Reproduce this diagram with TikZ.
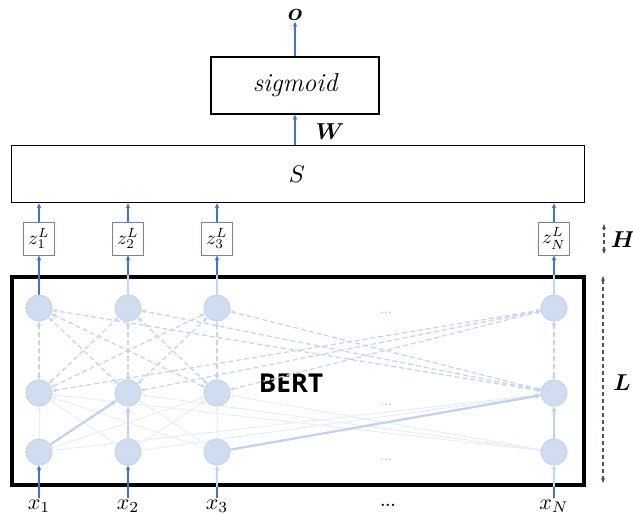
\RequirePackage{fix-cm}
\documentclass[tikz,border=0pt]{standalone}
\usepackage{fontspec}
\usepackage{graphicx}
\usetikzlibrary{arrows.meta}
\newfontfamily\bertfont{Open Sans}
\newcommand{\mylab}[2]{\scalebox{#1}{$#2$}}
\newcommand{\myblab}[2]{\scalebox{#1}{\boldmath$#2$}}
\definecolor{blueA}{HTML}{4472C4}
\definecolor{circfill}{HTML}{D0DCEF}
\definecolor{circdraw}{HTML}{C6D4EB}
\definecolor{dashc}{HTML}{C5D5EE}
\definecolor{faintc}{HTML}{E6EDF8}
\definecolor{thickc}{HTML}{C0D1EC}
\definecolor{dimc}{HTML}{44546A}
\definecolor{zbord}{HTML}{6F83AE}
\tikzset{
  neuron/.style={circle, fill=circfill, draw=circdraw, line width=0.8pt, minimum size=26pt, inner sep=0pt},
  bluearrow/.style={draw=blueA, line width=1.3pt, -{Stealth[length=5pt,width=4.5pt]}},
  palearrow/.style={draw=dashc, line width=1.3pt, -{Stealth[length=5pt,width=4.5pt]}},
  faintarrow/.style={draw=faintc, line width=1pt, -{Stealth[length=5pt,width=4.5pt]}},
  thickarrow/.style={draw=thickc, line width=2.2pt, -{Stealth[length=6pt,width=5.5pt]}},
  dasharrow/.style={draw=dashc, line width=1.3pt, dash pattern=on 5pt off 3pt, {Stealth[length=4pt,width=4pt]}-{Stealth[length=5pt,width=4.5pt]}},
  blackbox/.style={draw=black, line width=1.6pt, inner sep=0pt},
  zbox/.style={draw=zbord, line width=1pt, minimum width=31pt, minimum height=33pt, inner sep=0pt},
  dimarrow/.style={draw=dimc, line width=1.2pt, dash pattern=on 4pt off 3pt, {Stealth[length=5pt,width=4pt]}-{Stealth[length=5pt,width=4pt]}},
  lbl/.style={inner sep=1pt, font=\fontsize{10}{12}\selectfont},
  dotsg/.style={text=gray!70, font=\fontsize{14}{16}\selectfont}
}
\begin{document}
\begin{tikzpicture}[x=1pt, y=-1pt]
\useasboundingbox (0,0) rectangle (633,517);
% top part
\node[lbl] (o) at (295,15) {\myblab{2.5}{o}};
\node[blackbox, minimum width=168pt, minimum height=57pt, font=\fontsize{26}{29}\selectfont\itshape] (sig) at (295,85.5) {sigmoid};
\node[blackbox, minimum width=573pt, minimum height=57pt] (S) at (298,174) {};
\node[lbl] (Slab) at (297,174) {\mylab{2.4}{S}};
\node[lbl] (W) at (330,132) {\myblab{2.3}{W}};
\draw[bluearrow] (sig.north) -- (o.south);
\draw[bluearrow] (S.north -| sig.south) -- (sig.south);
% BERT frame
\node[draw=black, line width=4pt, minimum width=572pt, minimum height=208pt, inner sep=0pt] (frame) at (297.5,380.5) {};
\node[font=\bertfont\bfseries\fontsize{26}{30}\selectfont] (bert) at (291,383) {BERT};
% dimension arrows
\coordinate (Htop) at (604,224);
\coordinate (Hbot) at (604,254);
\draw[dimarrow] (Hbot) -- (Htop);
\node[lbl] (H) at (623,240) {\myblab{2.3}{H}};
\coordinate (Ltop) at (603,276);
\coordinate (Lbot) at (603,483);
\draw[dimarrow] (Lbot) -- (Ltop);
\node[lbl] (L) at (622,383) {\myblab{2.3}{L}};
% neurons, z boxes, inputs
\foreach \c/\x/\s in {1/39/1,2/128/2,3/217/3,4/554/N}{
  \node[neuron] (a\c) at (\x,308) {};
  \node[neuron] (b\c) at (\x,393) {};
  \node[neuron] (c\c) at (\x,452) {};
  \node[zbox, font=\fontsize{10}{12}\selectfont] (z\c) at (\x,238.5) {\mylab{1.9}{z_{\s}^{L}}};
  \node[lbl] (x\c) at (\x,506) {\mylab{2.2}{x_{\s}}};
  \draw[bluearrow] (z\c.north) -- (S.south -| z\c.north);
}
\node[dotsg] (d1) at (386,313) {...};
\node[dotsg] (d2) at (386,405) {...};
\node[dotsg] (d3) at (386,460) {...};
\node[lbl, font=\fontsize{16}{18}\selectfont\bfseries] (d4) at (388,505) {...};
% top outputs
\draw[bluearrow] (a1.north) -- (z1.south);
\foreach \c in {2,3,4}{
  \draw[palearrow] (a\c.north) -- (z\c.south);
  \draw[bluearrow] (frame.north -| z\c.south) -- (z\c.south);
}
% inputs
\draw[bluearrow] (x1.north) -- (c1.south);
\draw[bluearrow] (x2.north) -- (c2.south);
\foreach \c in {3,4}{
  \draw[palearrow] (x\c.north) -- (c\c.south);
  \draw[blueA, line width=1.3pt] (x\c.north) -- (frame.south -| x\c.north);
}
% faint all-pairs c -> b
\foreach \i in {1,2,3,4}{
  \foreach \j in {1,2,3,4}{
    \draw[faintarrow] (c\i) -- (b\j);
  }
}
\draw[thickarrow] (c1) -- (b2);
\draw[thickarrow] (c2) -- (b2);
\draw[thickarrow] (c3) -- (b4);
\draw[thickarrow] (c4) -- (b4);
% dashed all-pairs b -> a
\foreach \i in {1,2,3,4}{
  \foreach \j in {1,2,3,4}{
    \draw[dasharrow] (b\i) -- (a\j);
  }
}
% redraw neurons on top
\foreach \c/\x in {1/39,2/128,3/217,4/554}{
  \node[neuron] at (\x,308) {};
  \node[neuron] at (\x,393) {};
  \node[neuron] at (\x,452) {};
}
\end{tikzpicture}
\end{document}
